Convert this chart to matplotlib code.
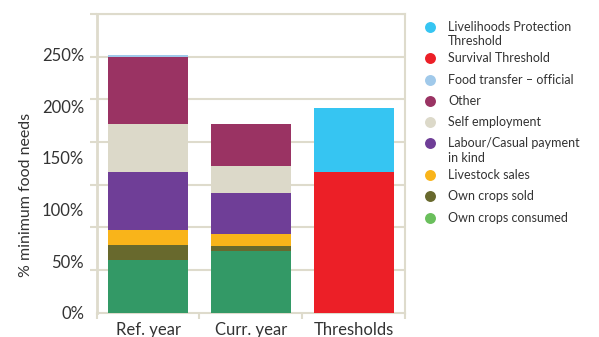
import matplotlib.pyplot as plt
import numpy as np

plt.rcParams['font.family'] = ['Lato', 'DejaVu Sans']

categories = ["Ref. year", "Curr. year", "Thresholds"]

# stacked segments, % of minimum food needs (bottom to top)
own_crops_consumed = [51, 60, 0]
own_crops_sold = [14.5, 5, 0]
livestock_sales = [14.5, 11.5, 0]
labour_casual = [56, 39, 0]
self_employment = [47, 27, 0]
other = [65, 40, 0]
food_transfer = [2, 0, 0]
survival_threshold = [0, 0, 136]
livelihoods_threshold = [0, 0, 62]

series = [
    ("Own crops consumed", own_crops_consumed, "#339966"),
    ("Own crops sold", own_crops_sold, "#68692d"),
    ("Livestock sales", livestock_sales, "#f9b41a"),
    ("Labour/Casual payment\nin kind", labour_casual, "#6f3e97"),
    ("Self employment", self_employment, "#dcd9c9"),
    ("Other", other, "#9a3363"),
    ("Food transfer \u2013 official", food_transfer, "#a0c9ea"),
    ("Survival Threshold", survival_threshold, "#ec1f27"),
    ("Livelihoods Protection\nThreshold", livelihoods_threshold, "#36c5f2"),
]
# legend dot for own crops consumed is a lighter green than the bar
legend_colors = {"Own crops consumed": "#6abf5c"}

W, H = 599, 337
fig = plt.figure(figsize=(W / 100, H / 100), dpi=100)
ax = fig.add_axes([96.7 / W, 1 - 312.7 / H, (405 - 96.7) / W, (312.7 - 14) / H])

grid_c = "#dedbcc"
text_c = "#333333"
x = np.arange(len(categories))
bottom = np.zeros(len(categories))
for name, vals, col in series:
    vals = np.array(vals, dtype=float)
    ax.bar(x, vals, width=0.78, bottom=bottom, color=col, zorder=3)
    bottom += vals

ymax = 289.4
ax.set_xlim(-0.5, 2.5)
ax.set_ylim(0, ymax)

# grid bands (7 equal) independent of the labels
ax.set_yticks(np.linspace(0, ymax, 8), minor=True)
ax.set_yticks(np.arange(0, 251, 50))
ax.set_yticklabels([f"{v}%" for v in range(0, 251, 50)])
ax.grid(True, which="minor", axis="y", color=grid_c, lw=1.5, zorder=0)
ax.tick_params(axis="y", which="major", length=0, pad=9, labelsize=12, labelcolor=text_c)
ax.tick_params(axis="y", which="minor", length=5, width=1.5, color=grid_c)

ax.set_xticks(x)
ax.set_xticklabels(categories)
ax.set_xticks([-0.5, 0.5, 1.5, 2.5], minor=True)
ax.tick_params(axis="x", which="major", length=0, pad=7, labelsize=12, labelcolor=text_c)
ax.tick_params(axis="x", which="minor", length=4, width=1.5, color=grid_c)

for s in ax.spines.values():
    s.set_color(grid_c)
    s.set_linewidth(1.5)
ax.spines["left"].set_linewidth(2)

ax.set_ylabel("% minimum food needs", fontsize=11.5, color=text_c)
ax.yaxis.set_label_coords((33 - 96.7) / (405 - 96.7), (312.7 - 195) / (312.7 - 14))

# legend drawn in pixel coordinates, dot aligned with the first text line
lax = fig.add_axes([0, 0, 1, 1])
lax.set_xlim(0, W)
lax.set_ylim(H, 0)
lax.axis("off")
y = 26.7
for name, vals, col in series[::-1]:
    lax.scatter([430], [y], s=62, color=legend_colors.get(name, col), linewidths=0)
    for i, line in enumerate(name.split("\n")):
        lax.text(448, y + 14.3 * i, line, fontsize=9, color=text_c, va="center")
    y += 21.3 + 10.2 * name.count("\n")

fig.savefig("out.png", dpi=100)
